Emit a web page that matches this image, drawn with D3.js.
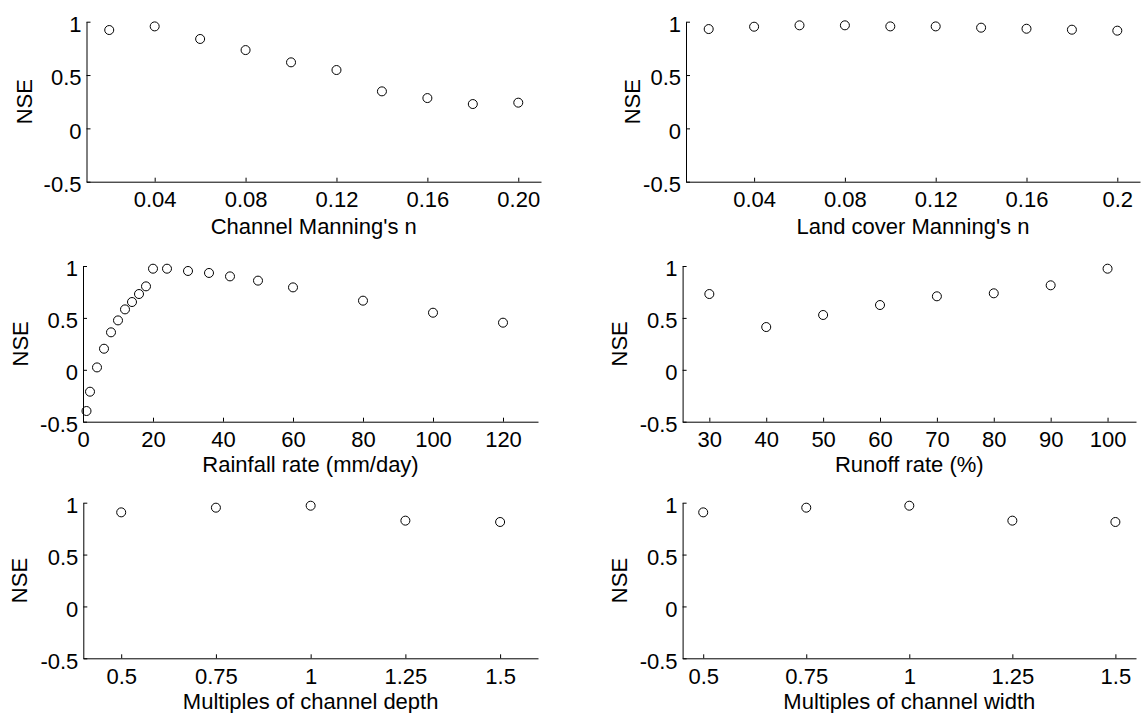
<!DOCTYPE html>
<html>
<head>
<meta charset="utf-8">
<script src="https://cdn.jsdelivr.net/npm/d3@7"></script>
<style>
  html, body { margin: 0; padding: 0; background: #fff; }
  svg { display: block; }
</style>
</head>
<body>
<svg id="chart" width="1146" height="713"></svg>
<script>
// ---------------- DATA ----------------
const channelN = [0.02, 0.04, 0.06, 0.08, 0.10, 0.12, 0.14, 0.16, 0.18, 0.20];
const channelNSE = [0.922, 0.956, 0.838, 0.734, 0.619, 0.547, 0.347, 0.284, 0.228, 0.241];

const landN = [0.02, 0.04, 0.06, 0.08, 0.10, 0.12, 0.14, 0.16, 0.18, 0.20];
const landNSE = [0.931, 0.953, 0.966, 0.966, 0.956, 0.956, 0.944, 0.934, 0.925, 0.916];

const rainRate = [1, 2, 4, 6, 8, 10, 12, 14, 16, 18, 20, 24, 30, 36, 42, 50, 60, 80, 100, 120];
const rainNSE = [-0.397, -0.211, 0.023, 0.203, 0.361, 0.476, 0.582, 0.653, 0.730, 0.804,
                 0.974, 0.974, 0.952, 0.933, 0.900, 0.859, 0.794, 0.666, 0.550, 0.454];

const runoffRate = [30, 40, 50, 60, 70, 80, 90, 100];
const runoffNSE = [0.730, 0.412, 0.528, 0.624, 0.708, 0.737, 0.814, 0.974];

const depthMult = [0.5, 0.75, 1, 1.25, 1.5];
const depthNSE = [0.907, 0.952, 0.971, 0.827, 0.814];

const widthMult = [0.5, 0.75, 1, 1.25, 1.5];
const widthNSE = [0.907, 0.952, 0.971, 0.827, 0.814];

// tick values / labels
const nTicks = [0.04, 0.08, 0.12, 0.16, 0.20];
const channelNTickLabels = ["0.04", "0.08", "0.12", "0.16", "0.20"];
const landNTickLabels = ["0.04", "0.08", "0.12", "0.16", "0.2"];
const rainTicks = [0, 20, 40, 60, 80, 100, 120];
const runoffTicks = [30, 40, 50, 60, 70, 80, 90, 100];
const multTicks = [0.5, 0.75, 1, 1.25, 1.5];
const multTickLabels = ["0.5", "0.75", "1", "1.25", "1.5"];
const nseTicks = [-0.5, 0, 0.5, 1];
const nseTickLabels = ["-0.5", "0", "0.5", "1"];

const xLabels = ["Channel Manning's n", "Land cover Manning's n", "Rainfall rate (mm/day)",
                 "Runoff rate (%)", "Multiples of channel depth", "Multiples of channel width"];
const yLabel = "NSE";

// ---------------- LAYOUT ----------------
const panels = [
  {x: channelN, y: channelNSE, ticks: nTicks, tickLabels: channelNTickLabels, xDomain: [0.01, 0.21],
   left: 86.5, right: 541, top: 21.7, bottom: 181.7, labOff: 52, nseX: 24},
  {x: landN, y: landNSE, ticks: nTicks, tickLabels: landNTickLabels, xDomain: [0.01, 0.21],
   left: 686, right: 1140, top: 21.7, bottom: 181.7, labOff: 52, nseX: 632},
  {x: rainRate, y: rainNSE, ticks: rainTicks, tickLabels: rainTicks.map(String), xDomain: [0, 130],
   left: 83, right: 538, top: 266, bottom: 421.7, labOff: 50.5, nseX: 20},
  {x: runoffRate, y: runoffNSE, ticks: runoffTicks, tickLabels: runoffTicks.map(String), xDomain: [25.3, 105],
   left: 682.6, right: 1136, top: 266, bottom: 421.7, labOff: 50.5, nseX: 619},
  {x: depthMult, y: depthNSE, ticks: multTicks, tickLabels: multTickLabels, xDomain: [0.4, 1.6],
   left: 83.3, right: 538, top: 502.7, bottom: 658.3, labOff: 50.6, nseX: 19},
  {x: widthMult, y: widthNSE, ticks: multTicks, tickLabels: multTickLabels, xDomain: [0.45, 1.55],
   left: 682.6, right: 1136, top: 502.7, bottom: 658.3, labOff: 50.6, nseX: 619}
];

const FONT = "'Liberation Sans', Arial, Helvetica, sans-serif";
const FS = 22;
const svg = d3.select("#chart");

panels.forEach((p, i) => {
  const xs = d3.scaleLinear().domain(p.xDomain).range([p.left, p.right]);
  const ys = d3.scaleLinear().domain([-0.5, 1]).range([p.bottom, p.top]);

  const g = svg.append("g");

  // x axis
  const xAxis = d3.axisBottom(xs)
    .tickValues(p.ticks)
    .tickFormat((d, k) => p.tickLabels[k])
    .tickSizeInner(-4).tickSizeOuter(0).tickPadding(10);
  const gx = g.append("g").attr("transform", `translate(0,${p.bottom})`).call(xAxis);
  gx.attr("font-size", FS).attr("font-family", FONT);
  gx.selectAll("path, line").attr("stroke", "#000").attr("stroke-width", 1);
  gx.selectAll("text").attr("fill", "#000");

  // y axis
  const yAxis = d3.axisLeft(ys)
    .tickValues(nseTicks)
    .tickFormat((d, k) => nseTickLabels[k])
    .tickSizeInner(-4).tickSizeOuter(0).tickPadding(5);
  const gy = g.append("g").attr("transform", `translate(${p.left},0)`).call(yAxis);
  gy.attr("font-size", FS).attr("font-family", FONT);
  gy.selectAll("path, line").attr("stroke", "#000").attr("stroke-width", 1);
  gy.selectAll("text").attr("fill", "#000").attr("dy", "0.45em");

  // x label
  g.append("text")
    .attr("x", (p.left + p.right) / 2)
    .attr("y", p.bottom + p.labOff)
    .attr("text-anchor", "middle")
    .attr("font-size", FS).attr("font-family", FONT).attr("fill", "#000")
    .text(xLabels[i]);

  // y label
  const cy = (p.top + p.bottom) / 2;
  g.append("text")
    .attr("transform", `translate(${p.nseX + 8},${cy}) rotate(-90)`)
    .attr("text-anchor", "middle")
    .attr("font-size", FS).attr("font-family", FONT).attr("fill", "#000")
    .text(yLabel);

  // points
  g.append("g").selectAll("circle")
    .data(p.x.map((xv, k) => [xv, p.y[k]]))
    .join("circle")
    .attr("cx", d => xs(d[0]))
    .attr("cy", d => ys(d[1]))
    .attr("r", 4.5)
    .attr("fill", "none")
    .attr("stroke", "#000")
    .attr("stroke-width", 1);
});
</script>
</body>
</html>
